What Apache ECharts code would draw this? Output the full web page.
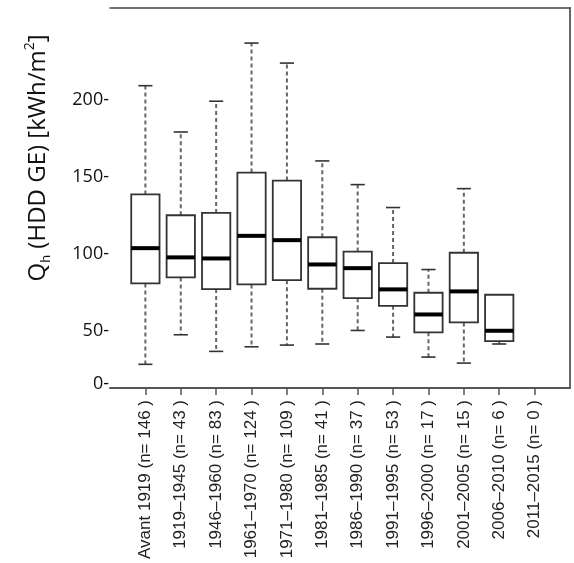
<!DOCTYPE html>
<html>
<head>
<meta charset="utf-8">
<script src="https://cdn.jsdelivr.net/npm/echarts@6/dist/echarts.min.js"></script>
<style>
  html, body { margin: 0; padding: 0; background: #fff; }
  #chart { width: 574px; height: 563px; }
</style>
</head>
<body>
<div id="chart"></div>
<script>
// periods of construction, one box per period
var categories = [
  "Avant 1919 (n= 146 )",
  "1919\u20131945 (n= 43 )",
  "1946\u20131960 (n= 83 )",
  "1961\u20131970 (n= 124 )",
  "1971\u20131980 (n= 109 )",
  "1981\u20131985 (n= 41 )",
  "1986\u20131990 (n= 37 )",
  "1991\u20131995 (n= 53 )",
  "1996\u20132000 (n= 17 )",
  "2001\u20132005 (n= 15 )",
  "2006\u20132010 (n= 6 )",
  "2011\u20132015 (n= 0 )"
];
// box statistics (kWh/m2), last period has no data
var lowWhisker = [28.4, 47.6, 36.8, 39.8, 40.9, 41.6, 50.4, 46.1, 33.1, 29.2, 41.6];
var q1 = [81.0, 84.9, 77.3, 80.3, 83.1, 77.5, 71.4, 66.4, 49.2, 55.6, 43.5];
var median = [103.9, 97.9, 97.2, 111.9, 109.1, 93.3, 90.9, 77.1, 60.8, 75.8, 50.2];
var q3 = [138.8, 125.3, 126.8, 153.0, 147.8, 111.0, 101.7, 94.2, 74.9, 100.9, 73.6];
var highWhisker = [209.5, 179.4, 199.4, 237.2, 224.2, 160.6, 145.2, 130.3, 90.0, 142.6, 73.6];

// y tick labels as printed on the figure (its "0-" sits off the 50-step)
var yTickValues = [16, 50, 100, 150, 200];
var yTickLabels = ["0-", "50-", "100-", "150-", "200-"];

var xTickValues = categories.map(function (c, i) { return i + 1; });

var boxData = [];
for (var i = 0; i < lowWhisker.length; i++) {
  boxData.push([i + 1, lowWhisker[i], q1[i], median[i], q3[i], highWhisker[i]]);
}

function renderBox(params, api) {
  var x = api.value(0);
  var band = api.size([1, 0])[0];
  var half = band * 0.4;
  var cap = band * 0.2;
  var pLow = api.coord([x, api.value(1)]);
  var pQ1 = api.coord([x, api.value(2)]);
  var pMed = api.coord([x, api.value(3)]);
  var pQ3 = api.coord([x, api.value(4)]);
  var pHigh = api.coord([x, api.value(5)]);
  var cx = pMed[0];
  var dash = { stroke: "#666", lineWidth: 2, lineDash: [4, 3] };
  var solid = { stroke: "#333", lineWidth: 1.6 };
  return {
    type: "group",
    children: [
      { type: "line", shape: { x1: cx, y1: pQ3[1], x2: cx, y2: pHigh[1] }, style: dash },
      { type: "line", shape: { x1: cx, y1: pQ1[1], x2: cx, y2: pLow[1] }, style: dash },
      { type: "line", shape: { x1: cx - cap, y1: pHigh[1], x2: cx + cap, y2: pHigh[1] }, style: solid },
      { type: "line", shape: { x1: cx - cap, y1: pLow[1], x2: cx + cap, y2: pLow[1] }, style: solid },
      {
        type: "rect",
        shape: { x: cx - half, y: pQ3[1], width: half * 2, height: pQ1[1] - pQ3[1] },
        style: { fill: "#fff", stroke: "#333", lineWidth: 1.8 }
      },
      { type: "line", shape: { x1: cx - half, y1: pMed[1], x2: cx + half, y2: pMed[1] }, style: { stroke: "#000", lineWidth: 4 } }
    ]
  };
}

var chart = echarts.init(document.getElementById("chart"));
chart.setOption({
  animation: false,
  backgroundColor: "#fff",
  grid: { left: 110, right: 4, top: 8, bottom: 175 },
  xAxis: [
    {
      type: "value",
      min: 0,
      max: 13,
      splitLine: { show: false },
      axisLine: { show: true, onZero: false, lineStyle: { color: "#555", width: 2 } },
      axisTick: { show: true, customValues: xTickValues, length: 7, lineStyle: { color: "#555", width: 1.5 } },
      axisLabel: {
        customValues: xTickValues,
        rotate: 90,
        margin: 12,
        fontFamily: "Liberation Sans",
        fontSize: 17,
        color: "#222",
        formatter: function (v) { return categories[Math.round(v) - 1] || ""; }
      }
    },
    {
      type: "value",
      position: "top",
      min: 0,
      max: 13,
      splitLine: { show: false },
      axisLine: { show: true, onZero: false, lineStyle: { color: "#444", width: 1.5 } },
      axisTick: { show: false },
      axisLabel: { show: false }
    }
  ],
  yAxis: [
    {
      type: "value",
      min: 13,
      max: 260,
      splitLine: { show: false },
      axisLine: { show: false },
      axisTick: { show: false },
      axisLabel: {
        customValues: yTickValues,
        margin: 1,
        fontFamily: "Open Sans",
        fontSize: 18,
        color: "#111",
        formatter: function (v) {
          var k = yTickValues.indexOf(v);
          return k >= 0 ? yTickLabels[k] : "";
        }
      },
      name: "Q{sub|h} (HDD GE) [kWh/m{sup|2}]",
      nameLocation: "middle",
      nameRotate: 90,
      nameGap: 57,
      nameTextStyle: {
        fontFamily: "Open Sans",
        fontSize: 24,
        color: "#111",
        padding: [0, 0, 0, 80],
        rich: {
          sub: { fontFamily: "Open Sans", fontSize: 13, color: "#111", verticalAlign: "bottom", lineHeight: 30 },
          sup: { fontFamily: "Open Sans", fontSize: 14, color: "#111", verticalAlign: "top", lineHeight: 26 }
        }
      }
    },
    {
      type: "value",
      position: "right",
      min: 13,
      max: 260,
      splitLine: { show: false },
      axisLine: { show: true, onZero: false, lineStyle: { color: "#666", width: 2 } },
      axisTick: { show: false },
      axisLabel: { show: false }
    }
  ],
  series: [
    {
      type: "custom",
      xAxisIndex: 0,
      yAxisIndex: 0,
      renderItem: renderBox,
      encode: { x: 0, y: [1, 2, 3, 4, 5] },
      data: boxData
    }
  ]
});
</script>
</body>
</html>
